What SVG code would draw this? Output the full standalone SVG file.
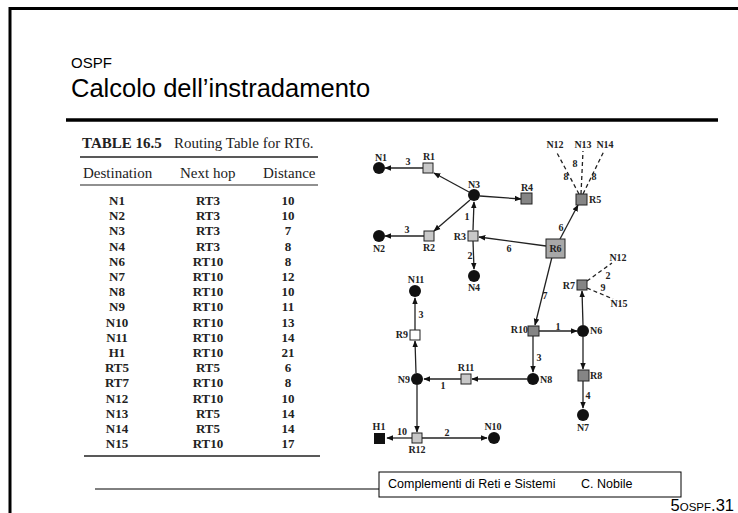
<svg xmlns="http://www.w3.org/2000/svg" width="738" height="513" viewBox="0 0 738 513">
<defs>
<marker id="ah" viewBox="0 0 10 10" refX="9" refY="5" markerWidth="7" markerHeight="7" markerUnits="userSpaceOnUse" orient="auto">
<path d="M0,1 L10,5 L0,9 Z" fill="#111"/>
</marker>
<style>
.frame{stroke:#000;stroke-width:3;fill:none}
.sans{font-family:"Liberation Sans",Arial,sans-serif;fill:#000}
.tb{font-family:"Liberation Serif","Times New Roman",serif;fill:#222}
.row{font-family:"Liberation Serif","Times New Roman",serif;font-weight:bold;font-size:13px;fill:#222;text-anchor:middle}
.lbl{font-family:"Liberation Serif","Times New Roman",serif;font-weight:bold;font-size:10px;fill:#222}
.num{font-family:"Liberation Serif","Times New Roman",serif;font-weight:bold;font-size:10px;fill:#222;text-anchor:middle}
.e{stroke:#222;stroke-width:1.3;fill:none;marker-end:url(#ah)}
.d{stroke:#222;stroke-width:1.3;fill:none;stroke-dasharray:4 3}
.net{fill:#111}
.r1{fill:#c8c8c8;stroke:#222;stroke-width:1}
.r2{fill:#858585;stroke:#222;stroke-width:1}
.r0{fill:#fff;stroke:#222;stroke-width:1}
</style>
</defs>
<rect width="738" height="513" fill="#fff"/>
<!-- frame -->
<path class="frame" d="M10,513 V8.5 H738"/>
<!-- title -->
<text class="sans" x="71" y="68" font-size="15">OSPF</text>
<text class="sans" x="71" y="97" font-size="25.5">Calcolo dell’instradamento</text>
<line x1="66" y1="120" x2="718" y2="120" stroke="#000" stroke-width="3.5"/>
<!-- table -->
<g id="table">
<text class="tb" x="82" y="148" font-size="15" font-weight="bold">TABLE 16.5</text>
<text class="tb" x="174" y="148" font-size="15">Routing Table for RT6.</text>
<line x1="80" y1="157" x2="318" y2="157" stroke="#222" stroke-width="1.6"/>
<text class="tb" x="83" y="178" font-size="15">Destination</text>
<text class="tb" x="180" y="178" font-size="15">Next hop</text>
<text class="tb" x="263" y="178" font-size="15">Distance</text>
<line x1="80" y1="185" x2="318" y2="185" stroke="#222" stroke-width="1.2"/>
<g>
<text class="row" x="117" y="205">N1</text><text class="row" x="208" y="205">RT3</text><text class="row" x="288" y="205">10</text>
<text class="row" x="117" y="220.2">N2</text><text class="row" x="208" y="220.2">RT3</text><text class="row" x="288" y="220.2">10</text>
<text class="row" x="117" y="235.4">N3</text><text class="row" x="208" y="235.4">RT3</text><text class="row" x="288" y="235.4">7</text>
<text class="row" x="117" y="250.6">N4</text><text class="row" x="208" y="250.6">RT3</text><text class="row" x="288" y="250.6">8</text>
<text class="row" x="117" y="265.8">N6</text><text class="row" x="208" y="265.8">RT10</text><text class="row" x="288" y="265.8">8</text>
<text class="row" x="117" y="281">N7</text><text class="row" x="208" y="281">RT10</text><text class="row" x="288" y="281">12</text>
<text class="row" x="117" y="296.2">N8</text><text class="row" x="208" y="296.2">RT10</text><text class="row" x="288" y="296.2">10</text>
<text class="row" x="117" y="311.4">N9</text><text class="row" x="208" y="311.4">RT10</text><text class="row" x="288" y="311.4">11</text>
<text class="row" x="117" y="326.6">N10</text><text class="row" x="208" y="326.6">RT10</text><text class="row" x="288" y="326.6">13</text>
<text class="row" x="117" y="341.8">N11</text><text class="row" x="208" y="341.8">RT10</text><text class="row" x="288" y="341.8">14</text>
<text class="row" x="117" y="357">H1</text><text class="row" x="208" y="357">RT10</text><text class="row" x="288" y="357">21</text>
<text class="row" x="117" y="372.2">RT5</text><text class="row" x="208" y="372.2">RT5</text><text class="row" x="288" y="372.2">6</text>
<text class="row" x="117" y="387.4">RT7</text><text class="row" x="208" y="387.4">RT10</text><text class="row" x="288" y="387.4">8</text>
<text class="row" x="117" y="402.6">N12</text><text class="row" x="208" y="402.6">RT10</text><text class="row" x="288" y="402.6">10</text>
<text class="row" x="117" y="417.8">N13</text><text class="row" x="208" y="417.8">RT5</text><text class="row" x="288" y="417.8">14</text>
<text class="row" x="117" y="433">N14</text><text class="row" x="208" y="433">RT5</text><text class="row" x="288" y="433">14</text>
<text class="row" x="117" y="448.2">N15</text><text class="row" x="208" y="448.2">RT10</text><text class="row" x="288" y="448.2">17</text>
</g>
<line x1="84" y1="456" x2="320" y2="456" stroke="#222" stroke-width="1.6"/>
</g>
<!-- connectors -->
<g id="connectors">
<line class="e" x1="423" y1="168" x2="385" y2="168"/>
<line class="e" x1="469" y1="192" x2="434" y2="173"/>
<line class="e" x1="480" y1="196" x2="521" y2="199"/>
<line class="e" x1="470" y1="200" x2="434" y2="231"/>
<line class="e" x1="473" y1="230" x2="474" y2="202"/>
<line class="e" x1="424" y1="236" x2="385" y2="236"/>
<line class="e" x1="473" y1="241" x2="474" y2="269"/>
<line class="e" x1="546" y1="246" x2="479" y2="237"/>
<line class="e" x1="560" y1="239" x2="578" y2="205"/>
<line class="e" x1="552" y1="257" x2="535" y2="325"/>
<line class="e" x1="539" y1="331" x2="577" y2="331"/>
<line class="e" x1="583" y1="325" x2="582" y2="291"/>
<line class="e" x1="583" y1="337" x2="583" y2="369"/>
<line class="e" x1="583" y1="381" x2="583" y2="408"/>
<line class="e" x1="533" y1="336" x2="533" y2="372"/>
<line class="e" x1="527" y1="379" x2="472" y2="379"/>
<line class="e" x1="461" y1="379" x2="424" y2="379"/>
<line class="e" x1="416" y1="373" x2="415" y2="341"/>
<line class="e" x1="415" y1="330" x2="415" y2="298"/>
<line class="e" x1="417" y1="385" x2="417" y2="432"/>
<line class="e" x1="412" y1="438" x2="387" y2="438"/>
<line class="e" x1="422" y1="438" x2="487" y2="438"/>
<line class="d" x1="579" y1="194" x2="556" y2="151"/>
<line class="d" x1="581" y1="194" x2="583" y2="151"/>
<line class="d" x1="583" y1="194" x2="604" y2="151"/>
<line class="d" x1="587" y1="281" x2="612" y2="263"/>
<line class="d" x1="587" y1="288" x2="613" y2="299"/>
<text class="num" x="408" y="165">3</text>
<text class="num" x="407" y="233">3</text>
<text class="num" x="467" y="220">1</text>
<text class="num" x="470" y="259">2</text>
<text class="num" x="509" y="252">6</text>
<text class="num" x="561" y="231">6</text>
<text class="num" x="545" y="299">7</text>
<text class="num" x="558" y="330">1</text>
<text class="num" x="588" y="399">4</text>
<text class="num" x="539" y="361">3</text>
<text class="num" x="443" y="389">1</text>
<text class="num" x="421" y="318">3</text>
<text class="num" x="402" y="435">10</text>
<text class="num" x="447" y="436">2</text>
<text class="num" x="566" y="180">8</text>
<text class="num" x="575" y="167">8</text>
<text class="num" x="594" y="180">8</text>
<text class="num" x="608" y="279">2</text>
<text class="num" x="603" y="291">9</text>
</g>
<!-- nodes -->
<g id="N1"><circle class="net" cx="379" cy="168" r="6"/><text class="lbl" x="381" y="161" text-anchor="middle">N1</text></g>
<g id="R1"><rect class="r1" x="423" y="163" width="10" height="10"/><text class="lbl" x="429" y="160" text-anchor="middle">R1</text></g>
<g id="N3"><circle class="net" cx="474" cy="195" r="6"/><text class="lbl" x="474" y="188" text-anchor="middle">N3</text></g>
<g id="R4"><rect class="r2" x="521" y="193" width="11" height="11"/><text class="lbl" x="527" y="191" text-anchor="middle">R4</text></g>
<g id="N2"><circle class="net" cx="379" cy="236" r="6"/><text class="lbl" x="379" y="252" text-anchor="middle">N2</text></g>
<g id="R2"><rect class="r1" x="424" y="231" width="10" height="10"/><text class="lbl" x="429" y="251" text-anchor="middle">R2</text></g>
<g id="R3"><rect class="r1" x="468" y="231" width="10" height="10"/><text class="lbl" x="466" y="240" text-anchor="end">R3</text></g>
<g id="N4"><circle class="net" cx="474" cy="276" r="6"/><text class="lbl" x="474" y="291" text-anchor="middle">N4</text></g>
<g id="R6"><rect x="546" y="239" width="19" height="19" fill="#a8a8a8" stroke="#222" stroke-width="1"/><text class="lbl" x="555.5" y="252" text-anchor="middle" font-size="11">R6</text></g>
<g id="R5"><rect class="r2" x="576" y="194" width="11" height="11"/><text class="lbl" x="589" y="203">R5</text></g>
<g id="N12a"><text class="lbl" x="555" y="148" text-anchor="middle">N12</text></g>
<g id="N13"><text class="lbl" x="583" y="148" text-anchor="middle">N13</text></g>
<g id="N14"><text class="lbl" x="605" y="148" text-anchor="middle">N14</text></g>
<g id="R7"><rect class="r2" x="577" y="280" width="10" height="10"/><text class="lbl" x="575" y="289" text-anchor="end">R7</text></g>
<g id="N12b"><text class="lbl" x="618" y="261" text-anchor="middle">N12</text></g>
<g id="N15"><text class="lbl" x="619" y="307" text-anchor="middle">N15</text></g>
<g id="N6"><circle class="net" cx="583" cy="331" r="6"/><text class="lbl" x="590" y="334">N6</text></g>
<g id="R10"><rect class="r2" x="528" y="326" width="11" height="10"/><text class="lbl" x="528" y="333" text-anchor="end">R10</text></g>
<g id="N8"><circle class="net" cx="533" cy="379" r="6"/><text class="lbl" x="540" y="383">N8</text></g>
<g id="R8"><rect class="r2" x="578" y="370" width="11" height="11"/><text class="lbl" x="590" y="379">R8</text></g>
<g id="N7"><circle class="net" cx="583" cy="415" r="6"/><text class="lbl" x="583" y="431" text-anchor="middle">N7</text></g>
<g id="R11"><rect class="r1" x="461" y="374" width="10" height="10"/><text class="lbl" x="466" y="371" text-anchor="middle">R11</text></g>
<g id="N9"><circle class="net" cx="417" cy="379" r="6"/><text class="lbl" x="410" y="383" text-anchor="end">N9</text></g>
<g id="R9"><rect class="r0" x="410" y="330" width="10" height="10"/><text class="lbl" x="408" y="338" text-anchor="end">R9</text></g>
<g id="N11"><circle class="net" cx="415" cy="291" r="6"/><text class="lbl" x="416" y="283" text-anchor="middle">N11</text></g>
<g id="R12"><rect class="r1" x="412" y="433" width="10" height="10"/><text class="lbl" x="417" y="453" text-anchor="middle">R12</text></g>
<g id="H1"><rect x="374" y="433" width="11" height="11" fill="#111"/><text class="lbl" x="379" y="430" text-anchor="middle">H1</text></g>
<g id="N10"><circle class="net" cx="494" cy="438" r="6"/><text class="lbl" x="493" y="430" text-anchor="middle">N10</text></g>
<!-- footer -->
<g id="footer">
<line x1="95" y1="489" x2="379" y2="489" stroke="#000" stroke-width="1"/>
<rect x="379" y="472" width="302" height="25" fill="none" stroke="#000" stroke-width="1"/>
<text class="sans" x="388" y="488" font-size="12.5">Complementi di Reti e Sistemi</text>
<text class="sans" x="581" y="488" font-size="12.5">C. Nobile</text>
<text class="sans" x="734" y="511" text-anchor="end" font-size="16.5">5<tspan font-size="11.5">OSPF</tspan>.31</text>
</g>
</svg>
